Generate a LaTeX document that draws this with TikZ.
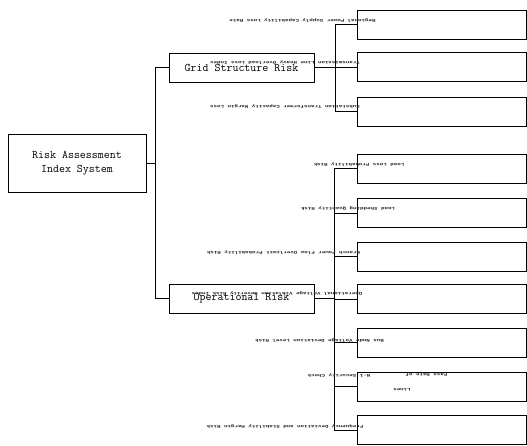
\documentclass[tikz,border=0pt]{standalone}
\usepackage{fontspec}
\newfontfamily\lblfont{Liberation Mono}
\begin{document}
\begin{tikzpicture}[x=1pt,y=-1pt,
  box/.style={draw, line width=0.8pt, inner sep=0pt, minimum height=29pt},
  main/.style={box, font=\fontsize{11.6}{13.5}\selectfont\ttfamily, align=center},
  leaf/.style={box, minimum width=169pt, anchor=west},
  conn/.style={line width=0.8pt},
  rlabel/.style={font=\fontsize{5.8}{7}\selectfont\lblfont\bfseries, text=black!85, rotate=180, yscale=0.7, inner sep=0pt}
]
\useasboundingbox (0,0) rectangle (527,445);
% root and level-1 boxes
\node[main, minimum width=138pt, minimum height=58pt] (root) at (77,163) {Risk Assessment\\Index System};
\node[main, minimum width=145pt] (grid) at (241.5,67.5) {Grid Structure Risk};
\node[main, minimum width=145pt] (op) at (241.5,298.5) {Operational Risk};
% leaf boxes
\node[leaf] (l1) at (357,24.5) {};
\node[leaf] (l2) at (357,67) {};
\node[leaf] (l3) at (357,111.5) {};
\node[leaf] (l4) at (357,168.5) {};
\node[leaf] (l5) at (357,213) {};
\node[leaf] (l6) at (357,256.5) {};
\node[leaf] (l7) at (357,299) {};
\node[leaf] (l8) at (357,342.5) {};
\node[leaf] (l9) at (357,386.5) {};
\node[leaf] (l10) at (357,430) {};
% bus coordinates
\coordinate (b0) at (155,163);
\coordinate (b0t) at (155,67.5);
\coordinate (b0b) at (155,298.5);
\coordinate (bg) at (335,67.5);
\coordinate (bgt) at (335,24.5);
\coordinate (bgb) at (335,111.5);
\coordinate (bo) at (334,298.5);
\coordinate (bot) at (334,168.5);
\coordinate (bob) at (334,430);
% connectors
\draw[conn] (root.east) -- (b0);
\draw[conn] (b0t) -- (b0b);
\draw[conn] (b0t) -- (grid.west);
\draw[conn] (b0b) -- (op.west);
\draw[conn] (grid.east) -- (bg);
\draw[conn] (bgt) -- (bgb);
\foreach \n in {l1,l2,l3} \draw[conn] (bgt |- \n.west) -- (\n.west);
\draw[conn] (op.east) -- (bo);
\draw[conn] (bot) -- (bob);
\foreach \n in {l4,l5,l6,l7,l8,l9,l10} \draw[conn] (bot |- \n.west) -- (\n.west);
% garbled (upside-down) labels
\node[rlabel] (t1) at (302.5,21) {Regional Power Supply Capability Loss Rate};
\node[rlabel] (t2) at (285,63) {Transmission Line Heavy Overload Loss Index};
\node[rlabel] (t3) at (285,107) {Substation Transformer Capacity Margin Loss};
\node[rlabel] (t4) at (359,165) {Load Loss Probability Risk};
\node[rlabel] (t5) at (348,209) {Load Shedding Quantity Risk};
\node[rlabel] (t6) at (283.5,253) {Branch Power Flow Overlimit Probability Risk};
\node[rlabel] (t7) at (277,294) {Operational Voltage Violation Severity Risk Index};
\node[rlabel] (t8) at (319.5,341) {Bus Node Voltage Deviation Level Risk};
\node[rlabel] (t9a) at (339,376) {N-1 Security Check};
\node[rlabel] (t9b) at (426.5,375) {Pass Rate of};
\node[rlabel] (t9c) at (402,390) {Lines};
\node[rlabel] (t10) at (285,427) {Frequency Deviation and Stability Margin Risk};
\end{tikzpicture}
\end{document}
